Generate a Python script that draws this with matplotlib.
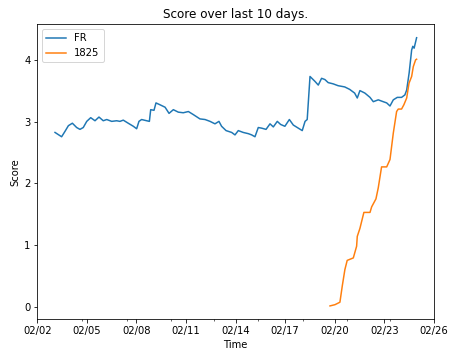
import matplotlib
matplotlib.use('Agg')
import matplotlib.pyplot as plt
import matplotlib.dates as mdates
import numpy as np
import datetime as dt

start = dt.datetime(2020, 2, 2)

# days since 02/02 and score
fr_days = [1.07, 1.47, 1.68, 1.88, 2.12, 2.38, 2.58, 2.78, 2.99, 3.23, 3.49, 3.73, 3.99,
           4.2, 4.5, 4.8, 5.0, 5.2, 5.5, 5.81, 6.01, 6.15, 6.31, 6.62, 6.78, 6.86, 7.06,
           7.18, 7.42, 7.73, 7.97, 8.23, 8.53, 8.83, 9.14, 9.44, 9.84, 10.15, 10.45,
           10.75, 10.99, 11.15, 11.42, 11.76, 11.96, 12.16, 12.46, 12.77, 12.97, 13.17,
           13.37, 13.57, 13.84, 14.08, 14.28, 14.52, 14.72, 14.98, 15.25, 15.49, 15.79,
           16.03, 16.2, 16.33, 16.5, 16.8, 17.0, 17.2, 17.4, 17.6, 17.9, 18.2, 18.4,
           18.6, 18.9, 19.2, 19.36, 19.52, 19.82, 20.13, 20.33, 20.63, 20.93, 21.14,
           21.34, 21.54, 21.78, 22.04, 22.24, 22.35, 22.5, 22.65, 22.72, 22.8, 22.95]
fr_score = [2.83, 2.76, 2.85, 2.94, 2.98, 2.91, 2.88, 2.91, 3.01, 3.07, 3.02, 3.08, 3.02,
            3.04, 3.01, 3.02, 3.01, 3.03, 2.98, 2.93, 2.89, 3.01, 3.04, 3.02, 3.01, 3.20,
            3.19, 3.31, 3.28, 3.24, 3.14, 3.20, 3.16, 3.15, 3.17, 3.12, 3.05, 3.04, 3.01,
            2.97, 3.01, 2.93, 2.86, 2.83, 2.79, 2.86, 2.83, 2.81, 2.79, 2.76, 2.91, 2.90,
            2.88, 2.97, 2.92, 3.01, 2.96, 2.93, 3.04, 2.95, 2.90, 2.86, 3.01, 3.04, 3.74,
            3.66, 3.60, 3.71, 3.69, 3.64, 3.62, 3.59, 3.58, 3.57, 3.53, 3.47, 3.39, 3.51,
            3.47, 3.40, 3.33, 3.36, 3.33, 3.31, 3.26, 3.36, 3.40, 3.40, 3.44, 3.52, 3.80,
            4.17, 4.23, 4.20, 4.37]

s1825_days = [17.71, 18.01, 18.31, 18.45, 18.61, 18.75, 19.12, 19.32, 19.36, 19.52,
              19.76, 20.13, 20.23, 20.49, 20.63, 20.83, 21.14, 21.34, 21.54, 21.74,
              21.84, 22.04, 22.18, 22.35, 22.49, 22.65, 22.75, 22.89, 22.95]
s1825_score = [0.01, 0.03, 0.07, 0.33, 0.60, 0.75, 0.79, 0.98, 1.14, 1.27,
               1.53, 1.53, 1.62, 1.75, 1.93, 2.27, 2.27, 2.39, 2.82, 3.17,
               3.21, 3.21, 3.28, 3.39, 3.63, 3.74, 3.90, 4.01, 4.02]

major_days = [0, 3, 6, 9, 12, 15, 18, 21, 24]
minor_days = [2.69, 5.41, 8.07, 10.71, 13.37, 16.06, 18.72, 21.34]


def to_dates(days):
    return [start + dt.timedelta(days=d) for d in days]


fig = plt.figure(figsize=(458 / 72, 360 / 72), dpi=72)
ax = fig.add_axes([0.0815, 0.113, 0.866, 0.8195])

ax.plot(to_dates(fr_days), fr_score, label='FR')
ax.plot(to_dates(s1825_days), s1825_score, label='1825')

ax.set_xlim(start, start + dt.timedelta(days=24))
ax.set_xticks(mdates.date2num(to_dates(major_days)))
ax.set_xticks(mdates.date2num(to_dates(minor_days)), minor=True)
ax.xaxis.set_major_formatter(mdates.DateFormatter('%m/%d'))

ax.set_title('Score over last 10 days.')
ax.set_xlabel('Time')
ax.set_ylabel('Score')
ax.legend(loc='upper left')

fig.savefig('out.png', dpi=72)
